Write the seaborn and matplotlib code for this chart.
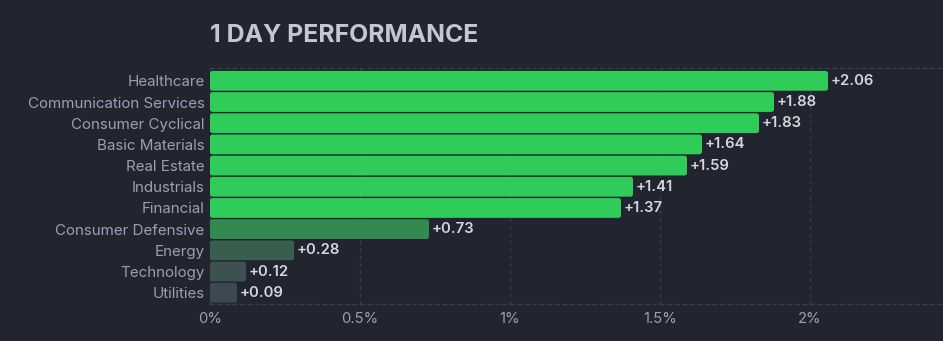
import matplotlib
matplotlib.use("Agg")
import matplotlib.pyplot as plt
import seaborn as sns
import pandas as pd
from matplotlib.patches import FancyBboxPatch
from matplotlib.ticker import FuncFormatter

sectors = ["Healthcare", "Communication Services", "Consumer Cyclical", "Basic Materials",
           "Real Estate", "Industrials", "Financial", "Consumer Defensive",
           "Energy", "Technology", "Utilities"]
changes = [2.06, 1.88, 1.83, 1.64, 1.59, 1.41, 1.37, 0.73, 0.28, 0.12, 0.09]
bar_colors = ["#30cc5a", "#30cc5a", "#30cc5a", "#30cc5a", "#30cc5a", "#30cc5a", "#30cc5a",
              "#338a50", "#3a5e4d", "#3c5150", "#3c4952"]
x_ticks = [0, 0.5, 1, 1.5, 2]

BG = "#22252f"
GRID = "#3a3e4c"
LABEL = "#9c9fb4"
VALUE = "#d4d6e0"

sns.set_theme(style="dark")
plt.rcParams["font.family"] = ["Inter", "DejaVu Sans"]

df = pd.DataFrame({"sector": sectors, "change": changes})

fig = plt.figure(figsize=(9.43, 3.41), dpi=100, facecolor=BG)
ax = fig.add_axes([210 / 943, 1 - 304 / 341, 1 - 210 / 943, (304 - 68) / 341])
ax.set_facecolor(BG)

sns.barplot(data=df, x="change", y="sector", hue="sector", palette=bar_colors,
            saturation=1, orient="h", width=0.934, linewidth=0, legend=False,
            ax=ax, zorder=3)

x_max = 733 / 300
ax.set_xlim(0, x_max)
ax.set_ylim(len(sectors) - 1 + 0.533, -0.606)

# swap the plain rectangles for slightly rounded ones
px_x = x_max / 733
px_y = (len(sectors) - 1 + 0.533 + 0.606) / 236
for bar in list(ax.patches):
    x, y = bar.get_x(), bar.get_y()
    w, h = bar.get_width(), bar.get_height()
    rounded = FancyBboxPatch((x, y), w, h,
                             boxstyle=f"round,pad=0,rounding_size={2.5 * px_x}",
                             mutation_aspect=px_y / px_x,
                             facecolor=bar.get_facecolor(), edgecolor="none", zorder=3)
    bar.remove()
    ax.add_patch(rounded)

ax.set_xticks(x_ticks)
ax.xaxis.set_major_formatter(FuncFormatter(lambda v, _: f"{v:g}%"))
ax.set_xlabel("")
ax.set_ylabel("")

ax.grid(axis="x", color=GRID, linestyle=(0, (3, 3)), linewidth=0.9, zorder=0)
ax.grid(axis="y", visible=False)
for side in ["left", "right"]:
    ax.spines[side].set_visible(False)
for side in ["top", "bottom"]:
    ax.spines[side].set_visible(True)
    ax.spines[side].set_color(GRID)
    ax.spines[side].set_linestyle((0, (3, 3)))
    ax.spines[side].set_linewidth(0.9)

ax.tick_params(axis="y", length=0, pad=4, labelsize=10.9, labelcolor=LABEL)
ax.tick_params(axis="x", length=0, pad=6, labelsize=10.7, labelcolor=LABEL)

for i, v in enumerate(changes):
    ax.text(v + 0.008, i, f"+{v:.2f}", va="center", ha="left", fontsize=10.7,
            fontweight="semibold", color=VALUE, zorder=4)

fig.text(210 / 943, 1 - 41.5 / 341, "1 DAY PERFORMANCE", ha="left", va="baseline",
         fontsize=17.9, fontweight="bold", color="#c4c6d2")

fig.savefig("out.png", dpi=100, facecolor=BG)
